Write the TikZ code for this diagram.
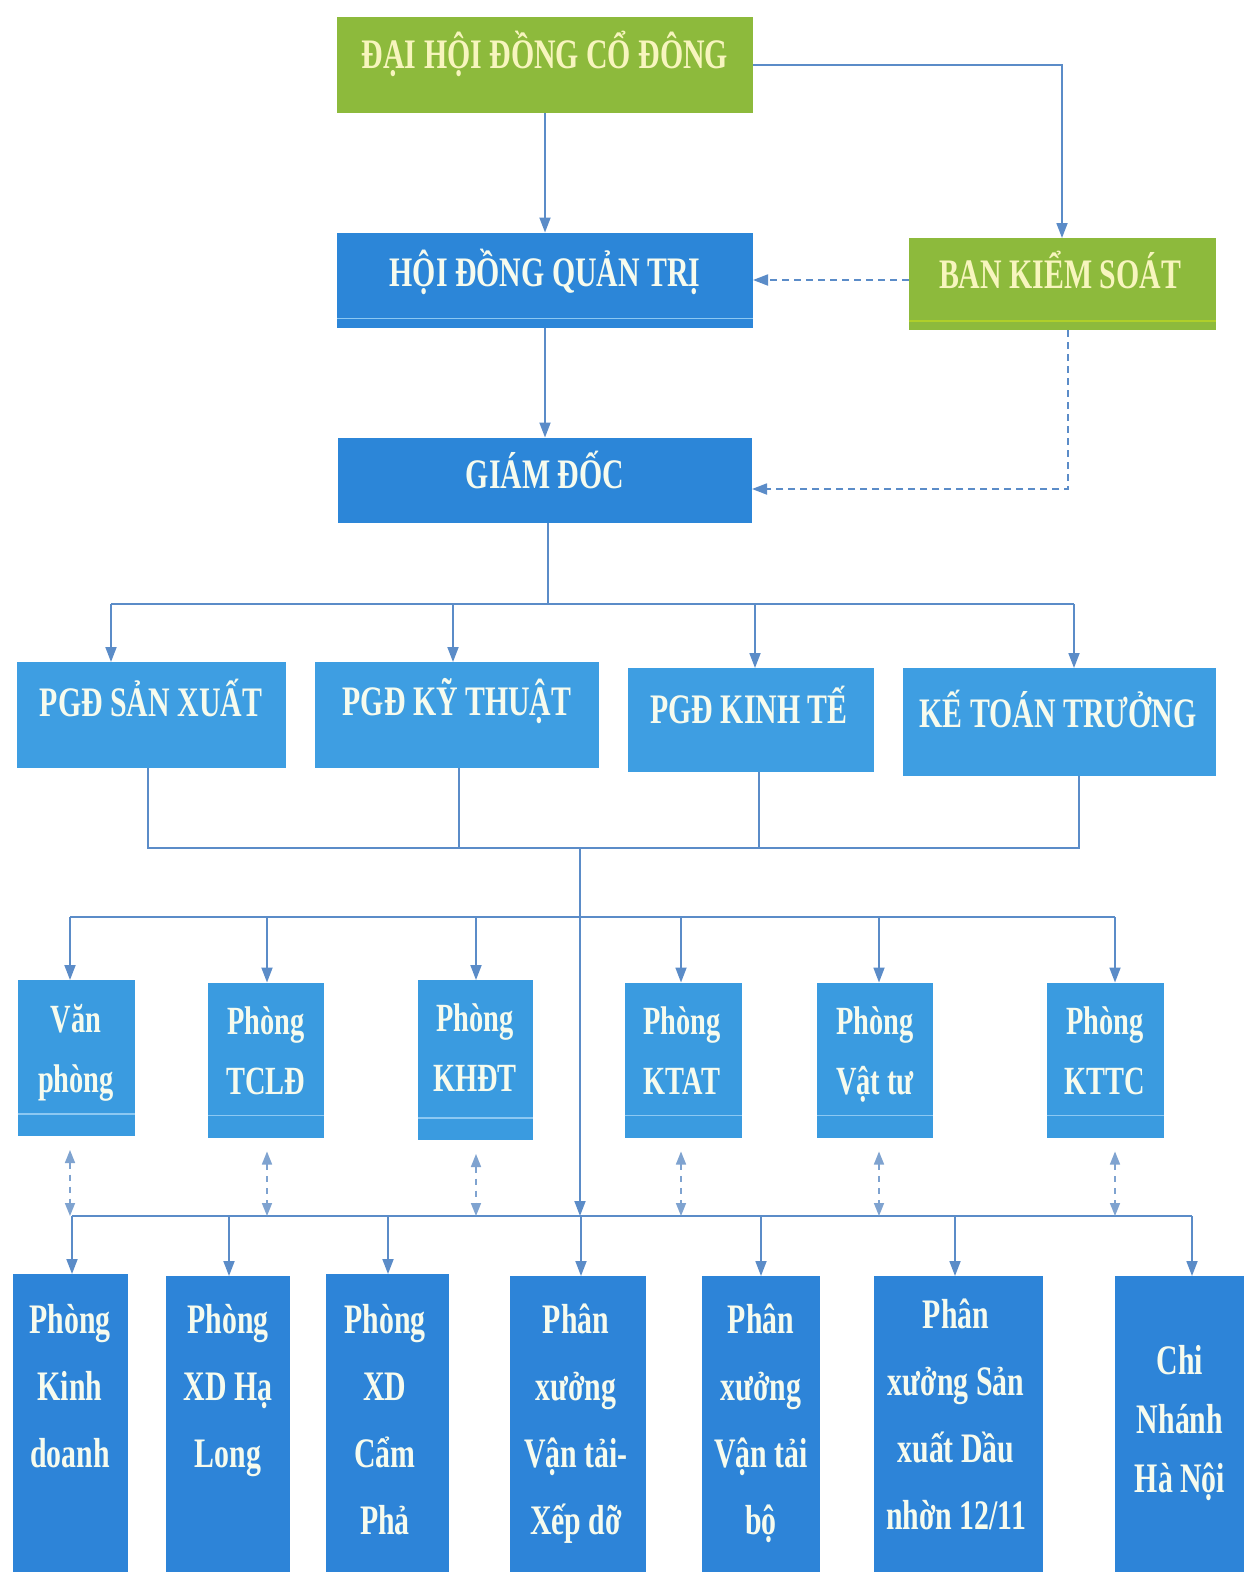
\documentclass[tikz,border=0pt]{standalone}
\usepackage{fontspec}
\setmainfont{Liberation Serif}
\newfontfamily\cfont[FakeStretch=0.71]{Liberation Serif}
\usetikzlibrary{arrows.meta}
\definecolor{grn}{HTML}{8DBA3C}
\definecolor{bdark}{HTML}{2C86D8}
\definecolor{bpgd}{HTML}{3E9EE2}
\definecolor{bmid}{HTML}{3A9BE0}
\definecolor{bbot}{HTML}{2D84D8}
\definecolor{sheen}{HTML}{8CC8F2}
\definecolor{txt}{HTML}{F6FBEE}
\definecolor{gtxt}{HTML}{F7F5BE}
\definecolor{lin}{HTML}{5B8CC8}
\definecolor{dlin}{HTML}{7FA3D0}
\newcommand\mlines[1]{\begin{tabular}[t]{@{}c@{}}#1\end{tabular}}
\tikzset{
  box/.style={draw=none, inner sep=0pt, outer sep=0pt},
  lbl/.style={text=txt, inner sep=0pt, anchor=base, font=\cfont\bfseries\fontsize{42}{60}\selectfont},
  lblm/.style={lbl, font=\cfont\bfseries\fontsize{40}{60}\selectfont},
  lblb/.style={lbl, font=\cfont\bfseries\fontsize{42}{67}\selectfont},
  lblc/.style={lbl, font=\cfont\bfseries\fontsize{42}{59}\selectfont},
  conn/.style={draw=lin, line width=1.8pt},
  arr/.style={conn, -{Triangle[width=11pt,length=15pt]}},
  darr/.style={draw=lin, line width=1.8pt, dash pattern=on 7pt off 5pt, -{Triangle[width=11pt,length=15pt]}},
  ddarr/.style={draw=dlin, line width=1.6pt, dash pattern=on 6pt off 6pt, {Triangle[width=10pt,length=13pt]}-{Triangle[width=10pt,length=13pt]}}
}
\begin{document}
\begin{tikzpicture}[x=1pt,y=-1pt]
\useasboundingbox (0,0) rectangle (1243,1572);
\fill[white] (0,0) rectangle (1243,1572);

% ---- top boxes
\node[box, fill=grn, minimum width=416pt, minimum height=96pt] (dh) at (545,65) {};
\node[box, fill=bdark, minimum width=416pt, minimum height=95pt] (hd) at (545,280) {};
\node[box, fill=grn, minimum width=307pt, minimum height=92pt] (bks) at (1062,284) {};
\node[box, fill=bdark, minimum width=414pt, minimum height=85pt] (gd) at (545,480) {};
\draw[sheen, line width=1.2pt] ([yshift=9pt]hd.south west) -- ([yshift=9pt]hd.south east);
\draw[grn!70!yellow, line width=1.2pt] ([yshift=9pt]bks.south west) -- ([yshift=9pt]bks.south east);

\node[lbl, text=gtxt] (tdh) at (545,68) {ĐẠI HỘI ĐỒNG CỔ ĐÔNG};
\node[lbl] (thd) at (545,286) {HỘI ĐỒNG QUẢN TRỊ};
\node[lbl, text=gtxt] (tbks) at (1060,288) {BAN KIỂM SOÁT};
\node[lbl] (tgd) at (545,488) {GIÁM ĐỐC};

% ---- PGD row
\node[box, fill=bpgd, minimum width=269pt, minimum height=106pt] (p1) at (151,715) {};
\node[box, fill=bpgd, minimum width=284pt, minimum height=106pt] (p2) at (457,715) {};
\node[box, fill=bpgd, minimum width=246pt, minimum height=104pt] (p3) at (751,720) {};
\node[box, fill=bpgd, minimum width=313pt, minimum height=108pt] (p4) at (1059,722) {};
\node[lbl] (tp1) at (151,716) {PGĐ SẢN XUẤT};
\node[lbl] (tp2) at (457,715) {PGĐ KỸ THUẬT};
\node[lbl] (tp3) at (749,723) {PGĐ KINH TẾ};
\node[lbl] (tp4) at (1058,727) {KẾ TOÁN TRƯỞNG};

% ---- middle row
\node[box, fill=bmid, minimum width=117pt, minimum height=156pt] (m1) at (76,1058) {};
\node[box, fill=bmid, minimum width=116pt, minimum height=155pt] (m2) at (266,1060) {};
\node[box, fill=bmid, minimum width=115pt, minimum height=160pt] (m3) at (475,1060) {};
\node[box, fill=bmid, minimum width=117pt, minimum height=155pt] (m4) at (683,1060) {};
\node[box, fill=bmid, minimum width=116pt, minimum height=155pt] (m5) at (875,1060) {};
\node[box, fill=bmid, minimum width=117pt, minimum height=155pt] (m6) at (1105,1060) {};
\foreach \m in {m1,m2,m3,m4,m5,m6}{
  \draw[sheen, line width=1.2pt] ([yshift=22pt]\m.south west) -- ([yshift=22pt]\m.south east);
}
\node[lblm] (tm1) at (76,1032) {\mlines{Văn\\phòng}};
\node[lblm] (tm2) at (266,1034) {\mlines{Phòng\\TCLĐ}};
\node[lblm] (tm3) at (475,1031) {\mlines{Phòng\\KHĐT}};
\node[lblm] (tm4) at (682,1034) {\mlines{Phòng\\KTAT}};
\node[lblm] (tm5) at (875,1034) {\mlines{Phòng\\Vật tư}};
\node[lblm] (tm6) at (1105,1034) {\mlines{Phòng\\KTTC}};

% ---- bottom row
\node[box, fill=bbot, minimum width=115pt, minimum height=299pt] (b1) at (70,1423.5) {};
\node[box, fill=bbot, minimum width=124pt, minimum height=297pt] (b2) at (228,1424.5) {};
\node[box, fill=bbot, minimum width=123pt, minimum height=299pt] (b3) at (387,1423.5) {};
\node[box, fill=bbot, minimum width=136pt, minimum height=297pt] (b4) at (578,1424.5) {};
\node[box, fill=bbot, minimum width=118pt, minimum height=297pt] (b5) at (761,1424.5) {};
\node[box, fill=bbot, minimum width=169pt, minimum height=297pt] (b6) at (958,1424.5) {};
\node[box, fill=bbot, minimum width=131pt, minimum height=297pt] (b7) at (1180,1424.5) {};
\node[lblb] (tb1) at (70,1333) {\mlines{Phòng\\Kinh\\doanh}};
\node[lblb] (tb2) at (228,1333) {\mlines{Phòng\\XD Hạ\\Long}};
\node[lblb] (tb3) at (385,1333) {\mlines{Phòng\\XD\\Cẩm\\Phả}};
\node[lblb] (tb4) at (576,1333) {\mlines{Phân\\xưởng\\Vận tải-\\Xếp dỡ}};
\node[lblb] (tb5) at (761,1333) {\mlines{Phân\\xưởng\\Vận tải\\bộ}};
\node[lblb] (tb6) at (956,1328) {\mlines{Phân\\xưởng Sản\\xuất Dầu\\nhờn 12/11}};
\node[lblc] (tb7) at (1180,1374) {\mlines{Chi\\Nhánh\\Hà Nội}};

% ---- connectors top
\draw[arr] (dh.south) -- (hd.north);
\coordinate (c1) at (1062,65);
\draw[arr] (dh.east |- c1) -- (c1) -- (bks.north);
\draw[darr] (bks.west |- hd.east) -- (hd.east);
\coordinate (c2) at (1068,489);
\draw[darr] (c2 |- bks.south) -- (c2) -- (c2 -| gd.east);
\draw[arr] (hd.south) -- (gd.north);

% ---- bus 1
\coordinate (k0) at (548,604);
\coordinate (k1) at (111,604);
\coordinate (k2) at (453,604);
\coordinate (k3) at (755,604);
\coordinate (k4) at (1074,604);
\draw[conn] (gd.south -| k0) -- (k0);
\draw[conn] (k1) -- (k4);
\draw[arr] (k1) -- (k1 |- p1.north);
\draw[arr] (k2) -- (k2 |- p2.north);
\draw[arr] (k3) -- (k3 |- p3.north);
\draw[arr] (k4) -- (k4 |- p4.north);

% ---- bus 2
\coordinate (q1) at (148,848);
\coordinate (q2) at (459,848);
\coordinate (q3) at (759,848);
\coordinate (q4) at (1079,848);
\coordinate (q0) at (580,848);
\draw[conn] (p1.south -| q1) -- (q1) -- (q4) -- (p4.south -| q4);
\draw[conn] (p2.south -| q2) -- (q2);
\draw[conn] (p3.south -| q3) -- (q3);
\coordinate (r0) at (580,1216);
\draw[arr] (q0) -- (r0);

% ---- bus 3
\coordinate (s1) at (70,917);
\coordinate (s2) at (267,917);
\coordinate (s3) at (476,917);
\coordinate (s4) at (681,917);
\coordinate (s5) at (879,917);
\coordinate (s6) at (1115,917);
\draw[conn] (s1) -- (s6);
\draw[arr] (s1) -- (s1 |- m1.north);
\draw[arr] (s2) -- (s2 |- m2.north);
\draw[arr] (s3) -- (s3 |- m3.north);
\draw[arr] (s4) -- (s4 |- m4.north);
\draw[arr] (s5) -- (s5 |- m5.north);
\draw[arr] (s6) -- (s6 |- m6.north);

% ---- bus 4
\coordinate (u1) at (72,1216);
\coordinate (u2) at (229,1216);
\coordinate (u3) at (388,1216);
\coordinate (u4) at (581,1216);
\coordinate (u5) at (761,1216);
\coordinate (u6) at (955,1216);
\coordinate (u7) at (1192,1216);
\draw[conn] (u1) -- (u7);
\draw[arr] (u1) -- (u1 |- b1.north);
\draw[arr] (u2) -- (u2 |- b2.north);
\draw[arr] (u3) -- (u3 |- b3.north);
\draw[arr] (u4) -- (u4 |- b4.north);
\draw[arr] (u5) -- (u5 |- b5.north);
\draw[arr] (u6) -- (u6 |- b6.north);
\draw[arr] (u7) -- (u7 |- b7.north);

% ---- dashed double arrows
\draw[ddarr] ([yshift=-14pt]m1.south -| s1) -- (s1 |- u1);
\draw[ddarr] ([yshift=-14pt]m2.south -| s2) -- (s2 |- u1);
\draw[ddarr] ([yshift=-14pt]m3.south -| s3) -- (s3 |- u1);
\draw[ddarr] ([yshift=-14pt]m4.south -| s4) -- (s4 |- u1);
\draw[ddarr] ([yshift=-14pt]m5.south -| s5) -- (s5 |- u1);
\draw[ddarr] ([yshift=-14pt]m6.south -| s6) -- (s6 |- u1);
\end{tikzpicture}
\end{document}
